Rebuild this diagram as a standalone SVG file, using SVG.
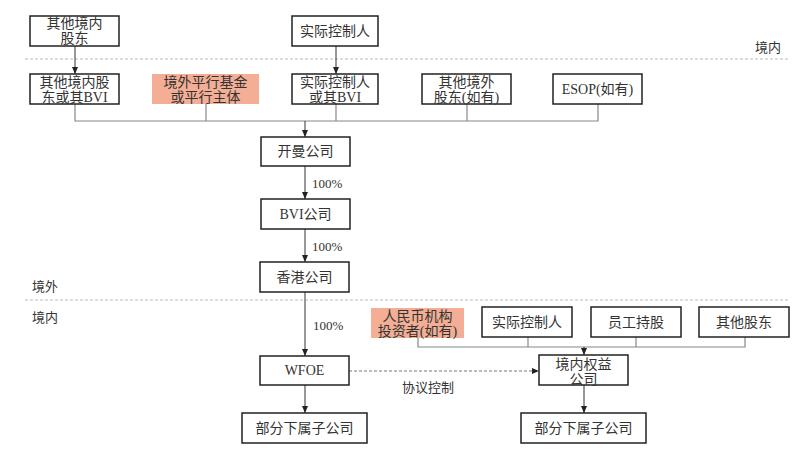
<svg xmlns="http://www.w3.org/2000/svg" width="812" height="469" viewBox="0 0 812 469">
<style>
.box{fill:#fff;stroke:#222;stroke-width:1.5}
.hl{fill:#f3ae95;stroke:none}
.t{font-family:"Liberation Serif","Noto Sans CJK SC",serif;font-size:14px;fill:#333;text-anchor:middle}
.lbl{font-family:"Liberation Serif","Noto Sans CJK SC",serif;font-size:13px;fill:#333}
.bus{fill:none;stroke:#888;stroke-width:1.2}
.arr{fill:none;stroke:#333;stroke-width:1;marker-end:url(#ah)}
.sep{fill:none;stroke:#bbb;stroke-width:1;stroke-dasharray:3,2}
.dash{fill:none;stroke:#777;stroke-width:1;stroke-dasharray:3,2;marker-end:url(#ah)}
</style>
<defs>
<marker id="ah" markerWidth="8" markerHeight="8" refX="7" refY="4" orient="auto" markerUnits="userSpaceOnUse">
<path d="M0,1 L7,4 L0,7 Z" fill="#222"/>
</marker>
</defs>
<rect width="812" height="469" fill="#fff"/>
<g id="separators">
<line class="sep" x1="25" y1="59" x2="790" y2="59"/>
<line class="sep" x1="25" y1="300" x2="790" y2="300"/>
<text class="lbl" x="755" y="52">境内</text>
<text class="lbl" x="32" y="291">境外</text>
<text class="lbl" x="32" y="322">境内</text>
</g>
<g id="connectors">
<line class="arr" x1="75" y1="46" x2="75" y2="74"/>
<line class="arr" x1="336" y1="46" x2="336" y2="74"/>
<polyline class="bus" points="75,104 75,121 598,121 598,104"/>
<line class="bus" x1="206" y1="104" x2="206" y2="121"/>
<line class="bus" x1="336" y1="104" x2="336" y2="121"/>
<line class="bus" x1="467" y1="104" x2="467" y2="121"/>
<line class="arr" x1="305" y1="121" x2="305" y2="137"/>
<line class="arr" x1="305" y1="166" x2="305" y2="199"/>
<line class="arr" x1="305" y1="229" x2="305" y2="262"/>
<line class="arr" x1="305" y1="292" x2="305" y2="356"/>
<line class="arr" x1="305" y1="385" x2="305" y2="413"/>
<polyline class="bus" points="418,338 418,347 745,347 745,337"/>
<line class="bus" x1="528" y1="337" x2="528" y2="347"/>
<line class="bus" x1="636" y1="337" x2="636" y2="347"/>
<line class="arr" x1="584" y1="347" x2="584" y2="355"/>
<line class="dash" x1="349" y1="371" x2="539" y2="371"/>
<line class="arr" x1="584" y1="385" x2="584" y2="413"/>
<text class="lbl" x="312" y="188">100%</text>
<text class="lbl" x="312" y="251">100%</text>
<text class="lbl" x="313" y="330">100%</text>
<text class="lbl" x="402" y="392">协议控制</text>
</g>
<g id="n1"><rect class="box" x="30" y="16" width="89" height="30"/><text class="t" x="74.5" y="28">其他境内</text><text class="t" x="74.5" y="43">股东</text></g>
<g id="n2"><rect class="box" x="292" y="16" width="86" height="30"/><text class="t" x="335" y="36">实际控制人</text></g>
<g id="n3"><rect class="box" x="30" y="74" width="89" height="30"/><text class="t" x="74.5" y="87">其他境内股</text><text class="t" x="74.5" y="102">东或其BVI</text></g>
<g id="n4"><rect class="hl" x="152" y="74" width="107" height="30"/><text class="t" x="205.5" y="87">境外平行基金</text><text class="t" x="205.5" y="102">或平行主体</text></g>
<g id="n5"><rect class="box" x="292" y="74" width="86" height="30"/><text class="t" x="335" y="87">实际控制人</text><text class="t" x="335" y="102">或其BVI</text></g>
<g id="n6"><rect class="box" x="422" y="74" width="89" height="30"/><text class="t" x="466.5" y="87">其他境外</text><text class="t" x="466.5" y="102">股东(如有)</text></g>
<g id="n7"><rect class="box" x="553" y="74" width="89" height="30"/><text class="t" x="597.5" y="94">ESOP(如有)</text></g>
<g id="n8"><rect class="box" x="261" y="137" width="89" height="29"/><text class="t" x="305.5" y="156">开曼公司</text></g>
<g id="n9"><rect class="box" x="261" y="199" width="89" height="30"/><text class="t" x="305.5" y="219">BVI公司</text></g>
<g id="n10"><rect class="box" x="260" y="262" width="89" height="30"/><text class="t" x="304.5" y="282">香港公司</text></g>
<g id="n11"><rect class="box" x="260" y="356" width="89" height="29"/><text class="t" x="304.5" y="375">WFOE</text></g>
<g id="n12"><rect class="box" x="242" y="413" width="125" height="30"/><text class="t" x="304.5" y="433">部分下属子公司</text></g>
<g id="n13"><rect class="hl" x="371" y="308" width="93" height="30"/><text class="t" x="417.5" y="321">人民币机构</text><text class="t" x="417.5" y="336">投资者(如有)</text></g>
<g id="n14"><rect class="box" x="482" y="307" width="90" height="30"/><text class="t" x="527" y="327">实际控制人</text></g>
<g id="n15"><rect class="box" x="591" y="307" width="90" height="30"/><text class="t" x="636" y="327">员工持股</text></g>
<g id="n16"><rect class="box" x="699" y="307" width="90" height="30"/><text class="t" x="744" y="327">其他股东</text></g>
<g id="n17"><rect class="box" x="539" y="355" width="89" height="30"/><text class="t" x="583.5" y="369">境内权益</text><text class="t" x="583.5" y="384">公司</text></g>
<g id="n18"><rect class="box" x="521" y="413" width="125" height="30"/><text class="t" x="583.5" y="433">部分下属子公司</text></g>
</svg>
